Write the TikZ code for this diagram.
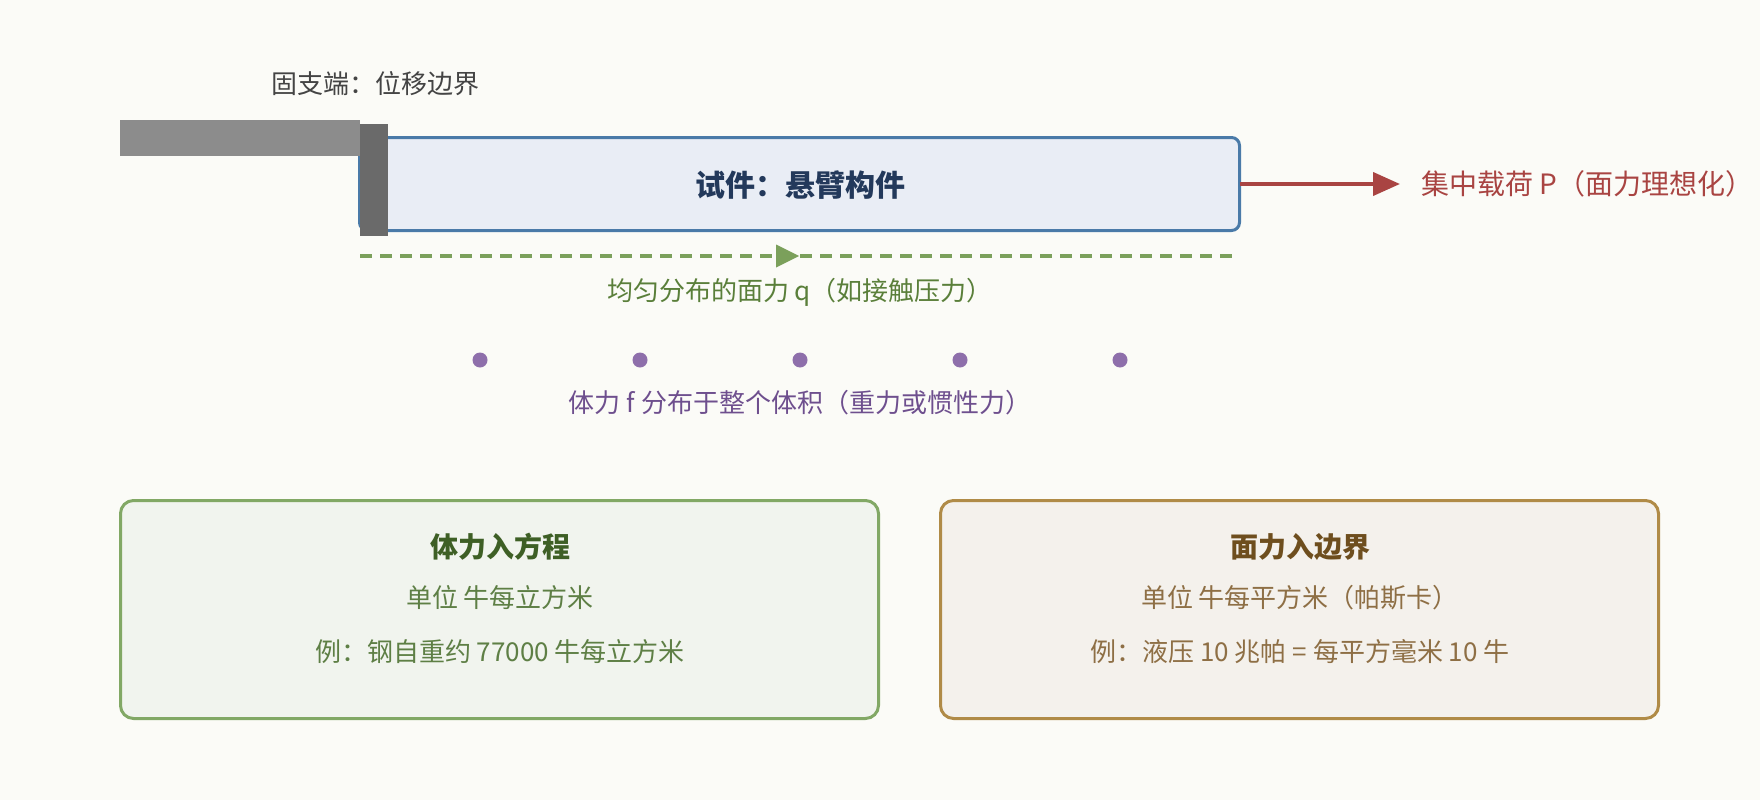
\documentclass[tikz,border=0pt]{standalone}
\usepackage{fontspec}
\newfontfamily\cjk{Noto Sans CJK SC}
\usetikzlibrary{arrows.meta}
\definecolor{bgc}{HTML}{FBFBF7}
\definecolor{grayc}{HTML}{8C8C8C}
\definecolor{darkbar}{HTML}{6A6A6A}
\definecolor{labelc}{HTML}{444444}
\definecolor{navy}{HTML}{23395B}
\definecolor{boxline}{HTML}{4A7AA8}
\definecolor{boxfill}{HTML}{E9EDF5}
\definecolor{redc}{HTML}{A94442}
\definecolor{qline}{HTML}{7BA05B}
\definecolor{qtext}{HTML}{5A7F3A}
\definecolor{dotc}{HTML}{8E6FAB}
\definecolor{ftext}{HTML}{6E4F8E}
\definecolor{gline}{HTML}{82A865}
\definecolor{gfill}{HTML}{F1F4EE}
\definecolor{gtitle}{HTML}{3E5F25}
\definecolor{gtext}{HTML}{5E7F45}
\definecolor{bline}{HTML}{B08B47}
\definecolor{bfill}{HTML}{F4F1EC}
\definecolor{btitle}{HTML}{6E4E1E}
\definecolor{btext}{HTML}{8E6F45}
\tikzset{
  txt/.style={inner sep=0pt, font=\cjk\fontsize{26pt}{30pt}\selectfont},
  bigtxt/.style={inner sep=0pt, font=\cjk\fontsize{28pt}{32pt}\selectfont},
  bigtitle/.style={inner sep=0pt, font=\cjk\bfseries\fontsize{30pt}{34pt}\selectfont},
  boxtitle/.style={inner sep=0pt, font=\cjk\bfseries\fontsize{28pt}{32pt}\selectfont},
  panel/.style={draw, line width=3pt, rounded corners=13pt, inner sep=0pt, minimum height=218pt},
}
\begin{document}
\begin{tikzpicture}[x=1pt,y=-1pt]
\fill[bgc] (0,0) rectangle (1760,800);
\useasboundingbox (0,0) rectangle (1760,800);
% specimen
\node[draw=boxline, fill=boxfill, line width=3pt, rounded corners=8pt, minimum width=880pt, minimum height=93pt, inner sep=0pt, outer sep=0pt] (spec) at (799.5,184) {};
\node[bigtitle, text=navy] (spect) at (800,185) {试件：悬臂构件};
% fixed support
\fill[grayc] (120,120) rectangle (360,156);
\fill[darkbar] (360,124) rectangle (388,236);
\node[txt, text=labelc] (fixl) at (375,84) {固支端：位移边界};
% concentrated load
\coordinate (ptip) at (1400,184);
\draw[redc, line width=4pt, -{Triangle[length=27pt,width=23pt]}] (spec.east) -- (ptip);
\node[bigtxt, text=redc, anchor=west] (pl) at (1421,184) {集中载荷 P（面力理想化）};
% distributed surface load
\coordinate (qs) at (360,256);
\coordinate (qe) at (1232,256);
\draw[qline, line width=4pt, dash pattern=on 12pt off 8pt] (qs) -- (qe);
\fill[qline] (776,244.5) -- (799,256) -- (776,267.5) -- cycle;
\node[txt, text=qtext] (ql) at (800,292) {均匀分布的面力 q（如接触压力）};
% body force
\foreach \x in {480,640,800,960,1120} \fill[dotc] (\x,360) circle (7.5pt);
\node[txt, text=ftext] (fl) at (800,403) {体力 f 分布于整个体积（重力或惯性力）};
% panels
\node[panel, draw=gline, fill=gfill, minimum width=758pt] (pb) at (499.5,609.5) {};
\node[boxtitle, text=gtitle] (pbt) at (500,547) {体力入方程};
\node[txt, text=gtext] (pb1) at (500,598) {单位 牛每立方米};
\node[txt, text=gtext] (pb2) at (500,652) {例：钢自重约 77000 牛每立方米};
\node[panel, draw=bline, fill=bfill, minimum width=718pt] (ps) at (1299.5,609.5) {};
\node[boxtitle, text=btitle] (pst) at (1300,547) {面力入边界};
\node[txt, text=btext] (ps1) at (1300,598) {单位 牛每平方米（帕斯卡）};
\node[txt, text=btext] (ps2) at (1300,652) {例：液压 10 兆帕 = 每平方毫米 10 牛};
\end{tikzpicture}
\end{document}
